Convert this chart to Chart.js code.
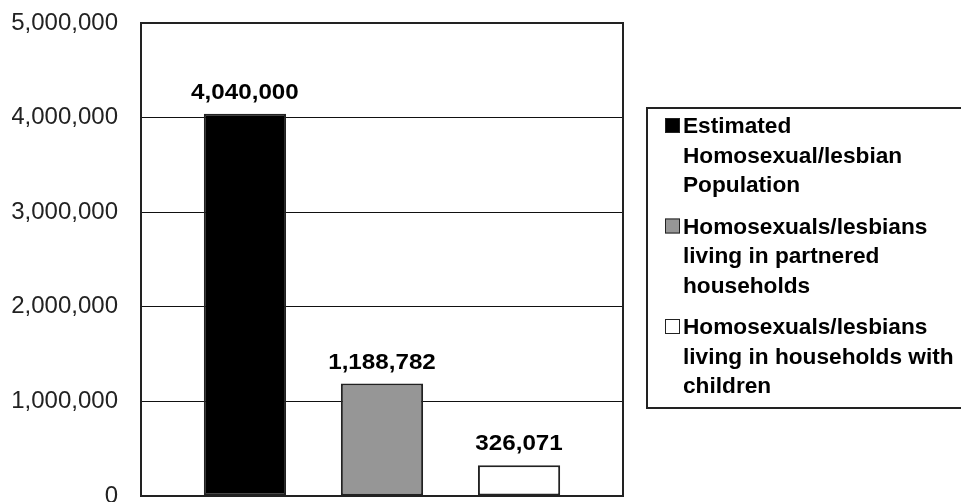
<!DOCTYPE html>
<html>
<head>
<meta charset="utf-8">
<title>Homosexual/lesbian population and households</title>
<script src="https://cdn.jsdelivr.net/npm/chart.js@4.4.1/dist/chart.umd.min.js"></script>
<style>
  html, body { margin: 0; padding: 0; background: #ffffff; }
  #wrap { width: 961px; height: 502px; position: relative; }
</style>
</head>
<body>
<div id="wrap"><canvas id="chart" width="961" height="502"></canvas></div>
<script>
// Series names, split into the lines shown in the legend
const seriesNames = [
  ['Estimated', 'Homosexual/lesbian', 'Population'],
  ['Homosexuals/lesbians', 'living in partnered', 'households'],
  ['Homosexuals/lesbians', 'living in households with', 'children']
];
const seriesValues = [4040000, 1188782, 326071];
const seriesColors = ['#000000', '#969696', '#ffffff'];
const categories = [''];
const yTicks = [0, 1000000, 2000000, 3000000, 4000000, 5000000];

const fmt = v => v.toLocaleString('en-US');

// Plot-area frame
const framePlugin = {
  id: 'frame',
  afterDatasetsDraw(chart) {
    const { ctx, chartArea: a } = chart;
    ctx.save();
    ctx.strokeStyle = '#222';
    ctx.lineWidth = 2;
    ctx.strokeRect(a.left, a.top, a.right - a.left, a.bottom - a.top);
    ctx.restore();
  }
};

// Value labels above each bar
const valueLabels = {
  id: 'valueLabels',
  afterDatasetsDraw(chart) {
    const { ctx } = chart;
    ctx.save();
    ctx.fillStyle = '#000';
    ctx.font = 'bold 22px "Liberation Sans", Arial, sans-serif';
    ctx.textAlign = 'center';
    ctx.textBaseline = 'alphabetic';
    chart.data.datasets.forEach((ds, i) => {
      const bar = chart.getDatasetMeta(i).data[0];
      const txt = fmt(ds.data[0]);
      ctx.save();
      ctx.translate(bar.x, bar.y - 15);
      ctx.scale(1.1, 1);
      ctx.fillText(txt, 0, 0);
      ctx.restore();
    });
    ctx.restore();
  }
};

// Boxed legend at the right
const boxLegend = {
  id: 'boxLegend',
  afterDraw(chart) {
    const { ctx } = chart;
    const boxLeft = 647, boxTop = 108, boxBottom = 408;
    const lineH = 29.5, itemGap = 12;
    const markX = 665, mark = 15, textX = 683;
    ctx.save();
    ctx.strokeStyle = '#222';
    ctx.lineWidth = 2;
    ctx.strokeRect(boxLeft, boxTop, 961 + 4 - boxLeft, boxBottom - boxTop);
    ctx.font = 'bold 22px "Liberation Sans", Arial, sans-serif';
    ctx.textBaseline = 'alphabetic';
    ctx.textAlign = 'left';
    let base = 133;
    chart.data.datasets.forEach((ds, i) => {
      ctx.fillStyle = ds.backgroundColor;
      ctx.fillRect(markX, base - mark, mark, mark);
      ctx.strokeStyle = '#222';
      ctx.lineWidth = 1;
      ctx.strokeRect(markX + 0.5, base - mark + 0.5, mark - 1, mark - 1);
      ctx.fillStyle = '#000';
      seriesNames[i].forEach((line, j) => {
        ctx.save();
        ctx.translate(textX, base + j * lineH);
        ctx.scale(1.03, 1);
        ctx.fillText(line, 0, 0);
        ctx.restore();
      });
      base += seriesNames[i].length * lineH + itemGap;
    });
    ctx.restore();
  }
};

const datasets = seriesValues.map((v, i) => ({
  label: seriesNames[i].join(' '),
  data: [v],
  backgroundColor: seriesColors[i],
  borderColor: '#222',
  borderWidth: 2,
  borderSkipped: false,
  categoryPercentage: 0.853,
  barPercentage: 0.6
}));

new Chart(document.getElementById('chart'), {
  type: 'bar',
  data: { labels: categories, datasets },
  options: {
    responsive: false,
    animation: false,
    devicePixelRatio: 1,
    events: [],
    layout: { padding: { left: 12, top: 23, right: 338, bottom: 6 } },
    plugins: { legend: { display: false }, tooltip: { enabled: false } },
    scales: {
      x: { display: false },
      y: {
        min: 0,
        max: 5000000,
        afterBuildTicks(scale) { scale.ticks = yTicks.map(v => ({ value: v })); },
        afterFit(scale) { scale.width = 129; scale.paddingTop = 0; scale.paddingBottom = 0; },
        border: { display: false },
        grid: { color: '#111', lineWidth: 1, drawTicks: false },
        ticks: {
          padding: 23,
          color: '#222',
          font: { family: '"Liberation Sans", Arial, sans-serif', size: 24 },
          callback: v => fmt(v)
        }
      }
    }
  },
  plugins: [framePlugin, valueLabels, boxLegend]
});
</script>
</body>
</html>
